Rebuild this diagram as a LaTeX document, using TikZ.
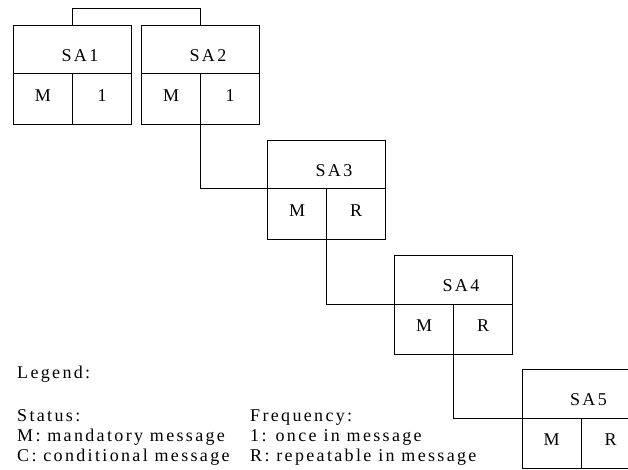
\documentclass[tikz,border=0pt]{standalone}
\usepackage{fontspec}
\setmainfont{Liberation Serif}[LetterSpace=13]
\usepackage{tikz}
\usetikzlibrary{calc}

\tikzset{
    sahead/.style={draw, line width=0.6bp, inner sep=0pt, outer sep=0pt, minimum width=118bp, minimum height=48.5bp,
        anchor=north west, text height=24bp, text depth=0pt,
        execute at begin node={\hspace*{15bp}}},
    sacell/.style={draw, line width=0.6bp, inner sep=0pt, outer sep=0pt, minimum width=59bp, minimum height=50.5bp,
        text height=12bp, text depth=7bp},
    legendtext/.style={anchor=base west, inner sep=0pt}
}

\begin{document}
\begin{tikzpicture}[x=1bp, y=-1bp, font=\fontsize{18bp}{20bp}\selectfont]
        \clip (0, 0) rectangle (628, 470);

        % boxes: number / left / top / frequency
        \foreach \n/\x/\y/\f in {1/13.5/25/1, 2/141.5/25/1, 3/267.5/140/R, 4/394.5/255.5/R, 5/522/369.5/R} {
            \node[sahead] (sa\n) at (\x, \y) {SA\n};
            \node[sacell, anchor=north west] (st\n) at (sa\n.south west) {M};
            \node[sacell, anchor=north east] (fq\n) at (sa\n.south east) {\f};
        }

        \draw[line width=0.6bp] (sa1.north) -- ++(0, -17) -| (sa2.north);

        \foreach \a/\b in {2/3, 3/4, 4/5} {
            \draw[line width=0.6bp] (st\a.south east) |- (st\b.north west);
        }

        % legend
        \node[legendtext] (legend) at (17, 378) {Legend:};

        \node[legendtext] (status) at (17, 421.5) {Status:};
        \node[legendtext] (statusm) at (17, 441.5) {M: mandatory message};
        \node[legendtext] (statusc) at (17, 461.5) {C: conditional message};

        \node[legendtext] (freq) at (250, 421.5) {Frequency:};
        \node[legendtext] (freqone) at (250, 441.5) {1: once in message};
        \node[legendtext] (freqr) at (250, 461.5) {R: repeatable in message};

    \end{tikzpicture}
\end{document}
